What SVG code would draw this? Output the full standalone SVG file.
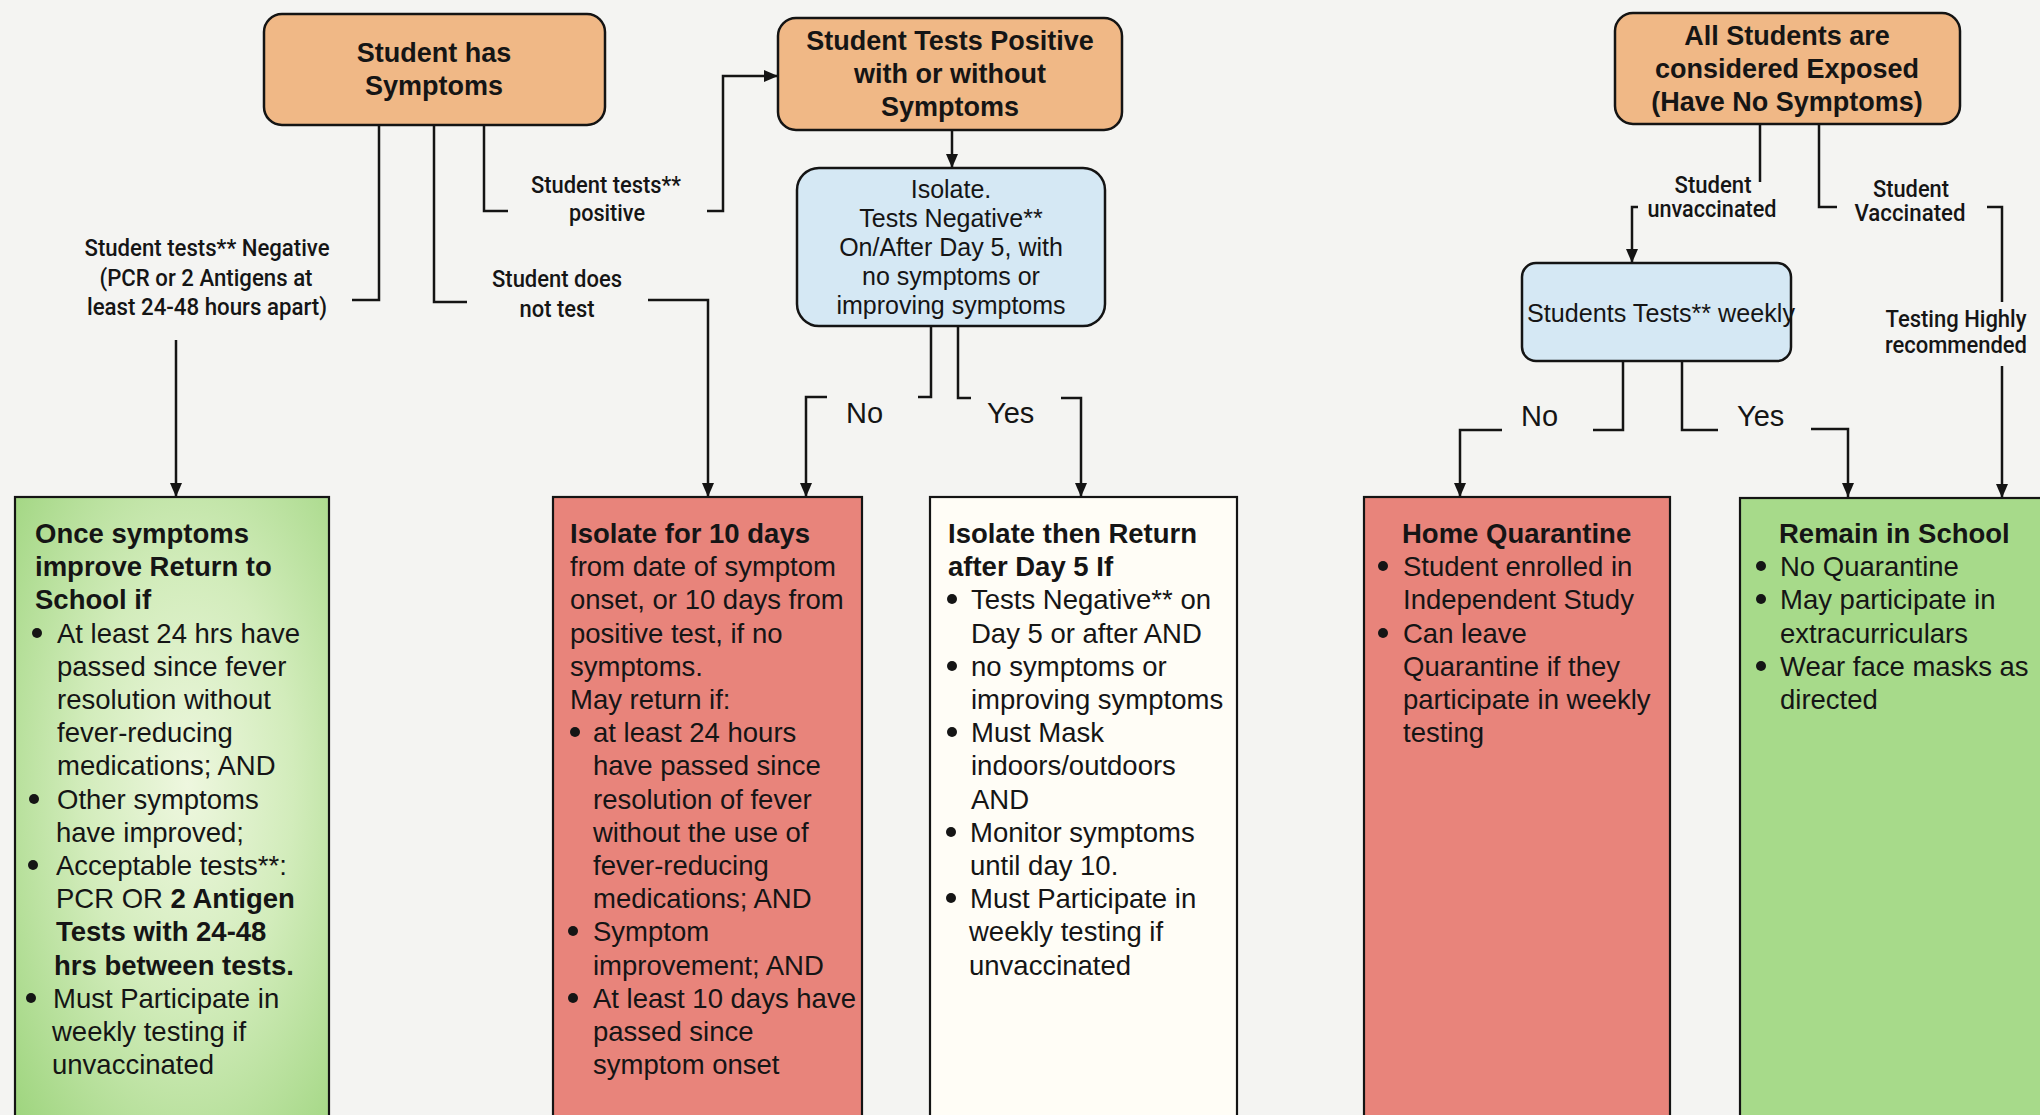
<svg xmlns="http://www.w3.org/2000/svg" width="2040" height="1115" viewBox="0 0 2040 1115">
<defs>
<style>
.bg{fill:#f4f4f2}
.rbox{stroke:#141414;stroke-width:2.5}
.orange{fill:#f0b886}
.blue{fill:#d5e8f4}
.red{fill:#e8847b}
.white{fill:#fffdf6}
.green{fill:#a7da8a}
.sq{stroke:#141414;stroke-width:2.2}
.conn{fill:none;stroke:#141414;stroke-width:2.5}
.title{font-family:"Liberation Sans",Arial,sans-serif;font-weight:bold;font-size:27px;fill:#151515;text-anchor:middle}
.ttl2{font-family:"Liberation Sans",Arial,sans-serif;font-size:25px;fill:#151515;text-anchor:middle}
.lbl{font-family:Roboto,"Liberation Sans",sans-serif;font-weight:500;font-size:24px;fill:#151515;text-anchor:middle}
.yn{font-family:"Liberation Sans",Arial,sans-serif;font-size:29px;fill:#151515}
.body{font-family:"Liberation Sans",Arial,sans-serif;font-size:27.5px;fill:#151515}
.b{font-weight:bold}
.dot{fill:#151515}
</style>
<radialGradient id="gl" cx="0.55" cy="0.45" r="0.75">
<stop offset="0" stop-color="#eef7df"/>
<stop offset="0.45" stop-color="#d2ecbb"/>
<stop offset="1" stop-color="#9fd57f"/>
</radialGradient>
<marker id="ah" viewBox="0 0 14 12" refX="14" refY="6" markerWidth="14" markerHeight="12" markerUnits="userSpaceOnUse" orient="auto">
<path d="M0,0 L14,6 L0,12 z" fill="#141414"/>
</marker>
</defs>
<rect class="bg" x="0" y="0" width="2040" height="1115"/>

<g id="connectors">
<path class="conn" d="M379,125 V300 H352"/>
<path class="conn" d="M176,340 V497" marker-end="url(#ah)"/>
<path class="conn" d="M434,125 V302 H467"/>
<path class="conn" d="M648,300 H708 V497" marker-end="url(#ah)"/>
<path class="conn" d="M484,125 V211 H508"/>
<path class="conn" d="M707,211 H723 V76 H778" marker-end="url(#ah)"/>
<path class="conn" d="M952,130 V168" marker-end="url(#ah)"/>
<path class="conn" d="M931,326 V397 H918"/>
<path class="conn" d="M827,397 H806 V497" marker-end="url(#ah)"/>
<path class="conn" d="M958,326 V398 H971"/>
<path class="conn" d="M1061,398 H1081 V497" marker-end="url(#ah)"/>
<path class="conn" d="M1760,124 V182"/>
<path class="conn" d="M1638,207 H1632 V263" marker-end="url(#ah)"/>
<path class="conn" d="M1819,124 V207 H1837"/>
<path class="conn" d="M1987,207 H2002 V302"/>
<path class="conn" d="M2002,366 V498" marker-end="url(#ah)"/>
<path class="conn" d="M1623,361 V430 H1593"/>
<path class="conn" d="M1502,430 H1460 V497" marker-end="url(#ah)"/>
<path class="conn" d="M1682,361 V430 H1718"/>
<path class="conn" d="M1811,429 H1848 V497" marker-end="url(#ah)"/>
</g>

<g id="labels">
<text class="lbl" x="207" y="256" textLength="245" lengthAdjust="spacingAndGlyphs">Student tests** Negative</text>
<text class="lbl" x="206" y="286" textLength="213" lengthAdjust="spacingAndGlyphs">(PCR or 2 Antigens at</text>
<text class="lbl" x="207" y="315" textLength="240" lengthAdjust="spacingAndGlyphs">least 24-48 hours apart)</text>
<text class="lbl" x="557" y="287" textLength="130" lengthAdjust="spacingAndGlyphs">Student does</text>
<text class="lbl" x="557" y="317" textLength="75" lengthAdjust="spacingAndGlyphs">not test</text>
<text class="lbl" x="606" y="193" textLength="150" lengthAdjust="spacingAndGlyphs">Student tests**</text>
<text class="lbl" x="607" y="221" textLength="76" lengthAdjust="spacingAndGlyphs">positive</text>
<text class="yn" x="846" y="423">No</text>
<text class="yn" x="987" y="423">Yes</text>
<text class="lbl" x="1713" y="193" textLength="77" lengthAdjust="spacingAndGlyphs">Student</text>
<text class="lbl" x="1712" y="217" textLength="129" lengthAdjust="spacingAndGlyphs">unvaccinated</text>
<text class="lbl" x="1911" y="197" textLength="76" lengthAdjust="spacingAndGlyphs">Student</text>
<text class="lbl" x="1910" y="221" textLength="111" lengthAdjust="spacingAndGlyphs">Vaccinated</text>
<text class="lbl" x="1956" y="327" textLength="141" lengthAdjust="spacingAndGlyphs">Testing Highly</text>
<text class="lbl" x="1956" y="353" textLength="142" lengthAdjust="spacingAndGlyphs">recommended</text>
<text class="yn" x="1521" y="426">No</text>
<text class="yn" x="1737" y="426">Yes</text>
</g>

<g id="symptoms">
<rect class="rbox orange" x="264" y="14" width="341" height="111" rx="18"/>
<text class="title" x="434" y="62">Student has</text>
<text class="title" x="434" y="95">Symptoms</text>
</g>

<g id="positive">
<rect class="rbox orange" x="778" y="18" width="344" height="112" rx="18"/>
<text class="title" x="950" y="50">Student Tests Positive</text>
<text class="title" x="950" y="83">with or without</text>
<text class="title" x="950" y="116">Symptoms</text>
</g>

<g id="isolate">
<rect class="rbox blue" x="797" y="168" width="308" height="158" rx="22"/>
<text class="ttl2" x="951" y="198">Isolate.</text>
<text class="ttl2" x="951" y="227">Tests Negative**</text>
<text class="ttl2" x="951" y="256">On/After Day 5, with</text>
<text class="ttl2" x="951" y="285">no symptoms or</text>
<text class="ttl2" x="951" y="314">improving symptoms</text>
</g>

<g id="exposed">
<rect class="rbox orange" x="1615" y="13" width="345" height="111" rx="18"/>
<text class="title" x="1787" y="45">All Students are</text>
<text class="title" x="1787" y="78">considered Exposed</text>
<text class="title" x="1787" y="111">(Have No Symptoms)</text>
</g>

<g id="weekly">
<rect class="rbox blue" x="1522" y="263" width="269" height="98" rx="14"/>
<text class="ttl2" x="1527" y="322" style="text-anchor:start" textLength="268" lengthAdjust="spacingAndGlyphs">Students Tests** weekly</text>
</g>

<g id="return-green">
<rect class="sq" fill="url(#gl)" x="15" y="497" width="314" height="640"/>
<text class="body b" x="35" y="543">Once symptoms</text>
<text class="body b" x="35" y="576">improve Return to</text>
<text class="body b" x="35" y="609">School if</text>
<circle class="dot" cx="37" cy="633" r="5"/>
<text class="body" x="57" y="643">At least 24 hrs have</text>
<text class="body" x="57" y="676">passed since fever</text>
<text class="body" x="57" y="709">resolution without</text>
<text class="body" x="57" y="742">fever-reducing</text>
<text class="body" x="57" y="775">medications; AND</text>
<circle class="dot" cx="34" cy="799" r="5"/>
<text class="body" x="57" y="809">Other symptoms</text>
<text class="body" x="56" y="842">have improved;</text>
<circle class="dot" cx="33" cy="865" r="5"/>
<text class="body" x="56" y="875">Acceptable tests**:</text>
<text class="body" x="56" y="908">PCR OR <tspan class="b">2 Antigen</tspan></text>
<text class="body b" x="56" y="941">Tests with 24-48</text>
<text class="body b" x="54" y="975">hrs between tests.</text>
<circle class="dot" cx="31" cy="998" r="5"/>
<text class="body" x="53" y="1008">Must Participate in</text>
<text class="body" x="52" y="1041">weekly testing if</text>
<text class="body" x="52" y="1074">unvaccinated</text>
</g>

<g id="isolate-10">
<rect class="sq red" x="553" y="497" width="309" height="640"/>
<text class="body b" x="570" y="543">Isolate for 10 days</text>
<text class="body" x="570" y="576">from date of symptom</text>
<text class="body" x="570" y="609">onset, or 10 days from</text>
<text class="body" x="570" y="643">positive test, if no</text>
<text class="body" x="570" y="676">symptoms.</text>
<text class="body" x="570" y="709">May return if:</text>
<circle class="dot" cx="575" cy="732" r="5"/>
<text class="body" x="593" y="742">at least 24 hours</text>
<text class="body" x="593" y="775">have passed since</text>
<text class="body" x="593" y="809">resolution of fever</text>
<text class="body" x="593" y="842">without the use of</text>
<text class="body" x="593" y="875">fever-reducing</text>
<text class="body" x="593" y="908">medications; AND</text>
<circle class="dot" cx="573" cy="931" r="5"/>
<text class="body" x="593" y="941">Symptom</text>
<text class="body" x="593" y="975">improvement; AND</text>
<circle class="dot" cx="573" cy="998" r="5"/>
<text class="body" x="593" y="1008">At least 10 days have</text>
<text class="body" x="593" y="1041">passed since</text>
<text class="body" x="593" y="1074">symptom onset</text>
</g>

<g id="isolate-return">
<rect class="sq white" x="930" y="497" width="307" height="640"/>
<text class="body b" x="948" y="543">Isolate then Return</text>
<text class="body b" x="948" y="576">after Day 5 If</text>
<circle class="dot" cx="952" cy="599" r="5"/>
<text class="body" x="971" y="609">Tests Negative** on</text>
<text class="body" x="971" y="643">Day 5 or after AND</text>
<circle class="dot" cx="952" cy="666" r="5"/>
<text class="body" x="971" y="676">no symptoms or</text>
<text class="body" x="971" y="709">improving symptoms</text>
<circle class="dot" cx="952" cy="732" r="5"/>
<text class="body" x="971" y="742">Must Mask</text>
<text class="body" x="971" y="775">indoors/outdoors</text>
<text class="body" x="971" y="809">AND</text>
<circle class="dot" cx="951" cy="832" r="5"/>
<text class="body" x="970" y="842">Monitor symptoms</text>
<text class="body" x="970" y="875">until day 10.</text>
<circle class="dot" cx="951" cy="898" r="5"/>
<text class="body" x="970" y="908">Must Participate in</text>
<text class="body" x="969" y="941">weekly testing if</text>
<text class="body" x="969" y="975">unvaccinated</text>
</g>

<g id="home-quarantine">
<rect class="sq red" x="1364" y="497" width="306" height="640"/>
<text class="body b" x="1402" y="543">Home Quarantine</text>
<circle class="dot" cx="1383" cy="566" r="5"/>
<text class="body" x="1403" y="576">Student enrolled in</text>
<text class="body" x="1403" y="609">Independent Study</text>
<circle class="dot" cx="1383" cy="633" r="5"/>
<text class="body" x="1403" y="643">Can leave</text>
<text class="body" x="1403" y="676">Quarantine if they</text>
<text class="body" x="1403" y="709">participate in weekly</text>
<text class="body" x="1403" y="742">testing</text>
</g>

<g id="remain-school">
<rect class="sq green" x="1740" y="498" width="330" height="640"/>
<text class="body b" x="1779" y="543">Remain in School</text>
<circle class="dot" cx="1761" cy="566" r="5"/>
<text class="body" x="1780" y="576">No Quarantine</text>
<circle class="dot" cx="1761" cy="599" r="5"/>
<text class="body" x="1780" y="609">May participate in</text>
<text class="body" x="1780" y="643">extracurriculars</text>
<circle class="dot" cx="1761" cy="666" r="5"/>
<text class="body" x="1780" y="676">Wear face masks as</text>
<text class="body" x="1780" y="709">directed</text>
</g>
</svg>
